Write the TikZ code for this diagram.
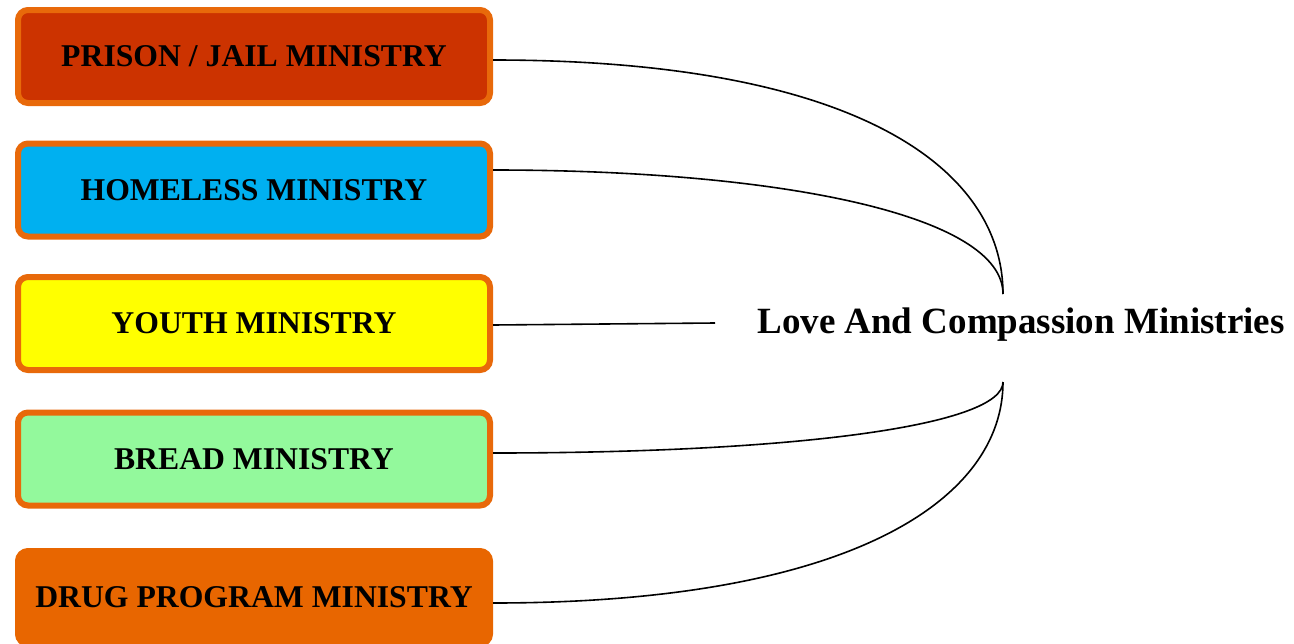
\documentclass[tikz,border=0pt]{standalone}
\usepackage{fontspec}
\setmainfont{Liberation Serif}
\usetikzlibrary{calc}
\definecolor{bordor}{HTML}{E8690A}
\definecolor{cprison}{HTML}{CC3300}
\definecolor{chome}{HTML}{00B0F0}
\definecolor{cyouth}{HTML}{FFFF00}
\definecolor{cbread}{HTML}{93F99C}
\definecolor{cdrug}{HTML}{E86600}
\begin{document}
\begin{tikzpicture}[x=1pt,y=-1pt,
  minbox/.style={draw=bordor,line width=6pt,rounded corners=10pt,minimum width=472pt,minimum height=93pt,inner sep=0pt,
    font=\fontsize{31.7}{38}\selectfont\bfseries},
  conn/.style={line width=1.6pt}]
\useasboundingbox (0,0) rectangle (1294,643);
\node[minbox,fill=cprison] (b1) at (254,56.5) {PRISON / JAIL MINISTRY};
\node[minbox,fill=chome] (b2) at (254,190) {HOMELESS MINISTRY};
\node[minbox,fill=cyouth] (b3) at (254,323.5) {YOUTH MINISTRY};
\node[minbox,fill=cbread] (b4) at (254,459) {BREAD MINISTRY};
\node[minbox,fill=cdrug,draw=cdrug] (b5) at (254,597.5) {DRUG PROGRAM MINISTRY};
\node[font=\fontsize{37}{44}\selectfont\bfseries,inner sep=0pt] (hub) at (1021,325) {Love And Compassion Ministries};
\coordinate (hubN) at (1003,294);
\coordinate (hubS) at (1003,382);
\coordinate (hubW) at (715,323);
\draw[conn] ($(b1.east)+(0,3.5)$) .. controls (860,60) and (1003,170) .. (hubN);
\draw[conn] ($(b2.east)+(0,-20)$) .. controls (780,170) and (1003,215) .. (hubN);
\draw[conn] ($(b3.east)+(0,1.5)$) -- (hubW);
\draw[conn] ($(b4.east)+(0,-6)$) .. controls (800,453) and (1003,425) .. (hubS);
\draw[conn] ($(b5.east)+(0,5.5)$) .. controls (850,603) and (1003,500) .. (hubS);
\end{tikzpicture}
\end{document}
